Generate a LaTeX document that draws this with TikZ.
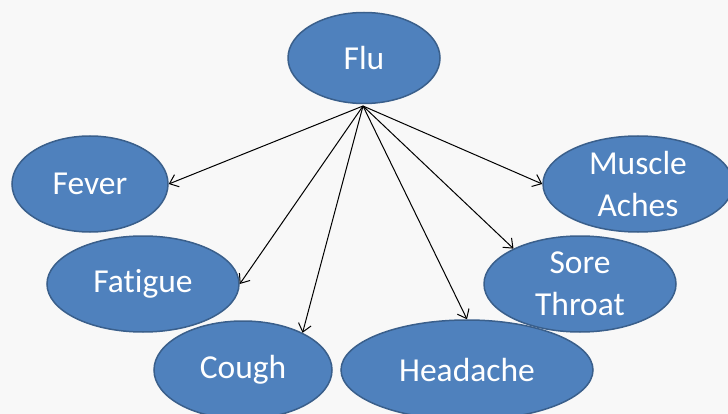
\documentclass[tikz,border=0pt]{standalone}
\usepackage{fontspec}
\setmainfont{Carlito}[Ligatures=NoCommon]
\usetikzlibrary{shapes.geometric,arrows.meta}
\definecolor{bgc}{HTML}{F8F8F8}
\definecolor{nodefill}{HTML}{4F81BD}
\definecolor{nodeline}{HTML}{3A5F8B}
\begin{document}
\begin{tikzpicture}[x=1pt,y=-1pt,
  sym/.style={ellipse,fill=nodefill,draw=nodeline,line width=1.5pt,inner sep=0pt,
    text=white,align=center,font=\fontsize{33.5}{42}\selectfont},
  edge/.style={draw=black,line width=1pt,-{Straight Barb[length=8pt,width=13pt,line width=1pt]}}]
\fill[bgc] (0,0) rectangle (728,414);
\useasboundingbox (0,0) rectangle (728,414);
\begin{scope}
\clip (0,0) rectangle (728,414);
\node[sym,minimum width=152pt,minimum height=91pt] (flu) at (364,58) {Flu};
\node[sym,minimum width=156pt,minimum height=96pt] (fever) at (90,184) {Fever};
\node[sym,minimum width=192pt,minimum height=96pt] (fatigue) at (143,284) {Fatigue};
\node[sym,minimum width=178pt,minimum height=98pt] (cough) at (243,370) {Cough};
\node[sym,minimum width=252pt,minimum height=100pt] (headache) at (467,370) {Headache};
\node[sym,minimum width=192pt,minimum height=96pt] (sore) at (580,284) {Sore\\Throat};
\node[sym,minimum width=190pt,minimum height=96pt] (muscle) at (638,184) {Muscle\\Aches};
\coordinate (src) at (363,106);
\draw[edge] (src) -- (fever.east);
\draw[edge] (src) -- (fatigue.east);
\draw[edge] (src) -- (cough.32);
\draw[edge] (src) -- (headache.north);
\draw[edge] (src) -- (sore.152);
\draw[edge] (src) -- (muscle.west);
\end{scope}
\end{tikzpicture}
\end{document}
